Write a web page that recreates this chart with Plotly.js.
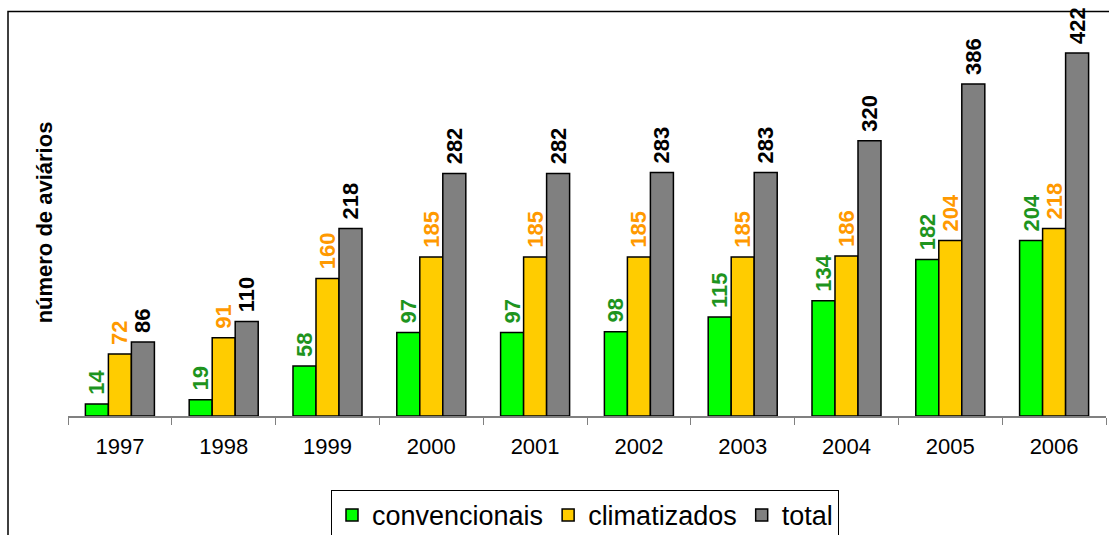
<!DOCTYPE html>
<html>
<head>
<meta charset="utf-8">
<script src="https://cdn.plot.ly/plotly-3.0.1.min.js"></script>
<style>
html,body{margin:0;padding:0;background:#fff;}
#chart{width:1109px;height:535px;}
</style>
</head>
<body>
<div id="chart"></div>
<script>
var years = ["1997","1998","1999","2000","2001","2002","2003","2004","2005","2006"];
var convencionais = [14,19,58,97,97,98,115,134,182,204];
var climatizados = [72,91,160,185,185,185,185,186,204,218];
var total = [86,110,218,282,282,283,283,320,386,422];

function series(name, vals, fill, labelColor){
  return {
    type:'bar', name:name, x:years, y:vals,
    text: vals.map(function(v){return '\u00a0' + v;}), textposition:'outside', textangle:-90,
    constraintext:'none', cliponaxis:false,
    textfont:{family:'Liberation Sans, Arial, sans-serif', size:22, color:labelColor, weight:'bold'},
    marker:{color:fill, line:{color:'#000', width:1.5}},
    hoverinfo:'x+y'
  };
}

var data = [
  series('convencionais', convencionais, '#00FF00', '#1E941E'),
  series('climatizados', climatizados, '#FFCC00', '#FF9900'),
  series('total', total, '#808080', '#000000')
];

var L=68, R=1106, T=28.5, B=416;
var pw=R-L, ph=B-T;
function px(x){return (x-L)/pw;}
function py(y){return (B-y)/ph;}

var layout = {
  width:1109, height:535,
  margin:{l:L, r:1109-R, t:T, b:535-B, pad:0, autoexpand:false},
  paper_bgcolor:'#fff', plot_bgcolor:'#fff',
  font:{family:'Liberation Sans, Arial, sans-serif', color:'#000'},
  barmode:'group', bargap:0.335, bargroupgap:0,
  showlegend:true,
  legend:{orientation:'h', x:px(585), xanchor:'center', y:py(490), yanchor:'top',
    bgcolor:'#fff', bordercolor:'#000', borderwidth:1,
    font:{size:27, color:'#000'}, traceorder:'normal'},
  xaxis:{type:'category', tickson:'boundaries', ticks:'outside', ticklen:7, tickwidth:1,
    tickcolor:'#808080', showline:true, linecolor:'#808080', linewidth:1.5,
    showgrid:false, zeroline:false, ticklabelstandoff:10,
    tickfont:{size:22, color:'#000'}},
  yaxis:{range:[0,450], showticklabels:false, showgrid:false, zeroline:false,
    showline:false, ticks:'',
    title:{text:'<b>número de aviários</b>', font:{size:22, color:'#000'}, standoff:8}},
  shapes:[{type:'rect', xref:'paper', yref:'paper', x0:px(8), y0:py(560), x1:px(1130), y1:py(11),
    line:{color:'#000', width:1.5}, fillcolor:'rgba(0,0,0,0)', layer:'below'}]
};

Plotly.newPlot('chart', data, layout, {displayModeBar:false, staticPlot:true});
</script>
</body>
</html>
